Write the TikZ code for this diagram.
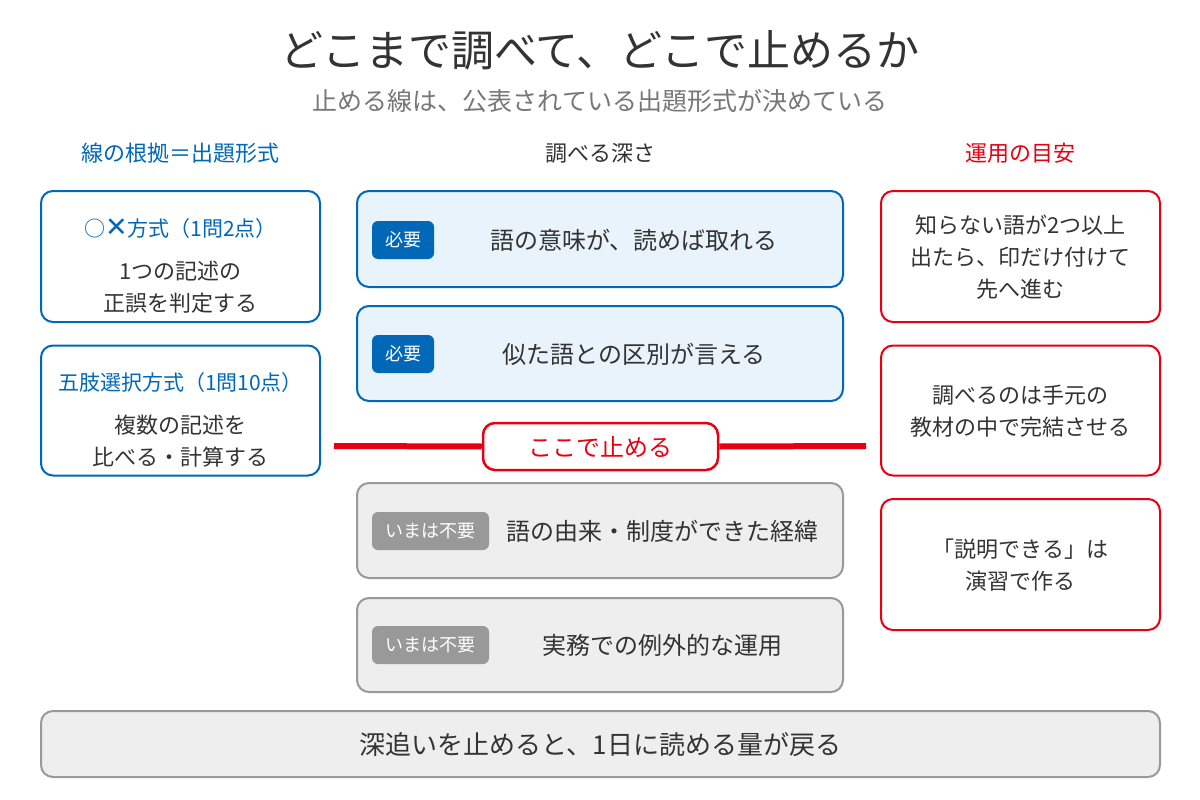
\documentclass[tikz,border=0pt]{standalone}
\usepackage{fontspec}
\setmainfont{Noto Sans CJK JP}
\newfontfamily\djv{DejaVu Sans}
\newcommand\myfs[2]{\fontsize{#1}{#2}\selectfont}
\definecolor{cblue}{HTML}{0068B7}
\definecolor{cred}{HTML}{E60012}
\definecolor{cdark}{HTML}{333333}
\definecolor{csub}{HTML}{777777}
\definecolor{lblue}{HTML}{E8F3FC}
\definecolor{lgray}{HTML}{EEEEEE}
\definecolor{mgray}{HTML}{999999}
\tikzset{
  box/.style={draw, rounded corners=12pt, line width=2pt, inner sep=0pt},
  bluebox/.style={box, draw=cblue, fill=white},
  redbox/.style={box, draw=cred, fill=white},
  needbox/.style={box, draw=cblue, fill=lblue},
  skipbox/.style={box, draw=mgray, fill=lgray},
  badge/.style={rounded corners=6pt, inner sep=0pt, minimum height=38pt, text=white, font=\myfs{18}{20}},
  body/.style={text=cdark, align=center, font=\myfs{22}{32}, inner sep=0pt},
  midtext/.style={text=cdark, font=\myfs{24}{30}, inner sep=0pt},
  head/.style={font=\myfs{22}{26}, inner sep=0pt},
  redline/.style={draw=cred, line width=6pt}
}
\begin{document}
\begin{tikzpicture}[x=1pt,y=-1pt]
\useasboundingbox (0,0) rectangle (1200,800);
\fill[white] (0,0) rectangle (1200,800);

% titles
\node[text=cdark, font=\myfs{43}{50}, inner sep=0pt] (title) at (600,50) {どこまで調べて、どこで止めるか};
\node[text=csub, font=\myfs{25}{30}, inner sep=0pt] (subtitle) at (600,101) {止める線は、公表されている出題形式が決めている};

% column headers
\node[head, text=cblue] (hl) at (180.5,153) {線の根拠＝出題形式};
\node[head, text=cdark] (hm) at (600,153) {調べる深さ};
\node[head, text=cred] (hr) at (1020.5,153) {運用の目安};

% left column
\node[bluebox, minimum width=279pt, minimum height=131pt] (L1) at (180.5,256.5) {};
\node[text=cblue, font=\myfs{21}{26}, inner sep=0pt] (L1t) at (180.5,229) {○{\djv\myfs{27}{26}✕}方式（1問2点）};
\node[body] (L1b) at (180.5,287) {1つの記述の\\正誤を判定する};

\node[bluebox, minimum width=279pt, minimum height=130pt] (L2) at (180.5,410.5) {};
\node[text=cblue, font=\myfs{21}{26}, inner sep=0pt] (L2t) at (180.5,383) {五肢選択方式（1問10点）};
\node[body] (L2b) at (180.5,441) {複数の記述を\\比べる・計算する};

% middle column
\node[needbox, minimum width=486pt, minimum height=96pt] (M1) at (600,239) {};
\node[badge, fill=cblue, minimum width=62pt] (B1) at (403,240) {必要};
\node[midtext] (M1t) at (634,240) {語の意味が、読めば取れる};

\node[needbox, minimum width=486pt, minimum height=95pt] (M2) at (600,353.5) {};
\node[badge, fill=cblue, minimum width=62pt] (B2) at (403,354) {必要};
\node[midtext] (M2t) at (634,354) {似た語との区別が言える};

\coordinate (rl) at (334,446);
\coordinate (rr) at (866,446);
\node[redbox, line width=2.5pt, minimum width=235pt, minimum height=47pt, text=cred, font=\myfs{24}{30}] (stop) at (600.5,446.5) {ここで止める};
\draw[redline] (rl) -- (stop.west);
\draw[redline] (stop.east) -- (rr);

\node[skipbox, minimum width=486pt, minimum height=95pt] (M3) at (600,530.5) {};
\node[badge, fill=mgray, minimum width=117pt] (B3) at (430.5,531) {いまは不要};
\node[midtext] (M3t) at (662,531) {語の由来・制度ができた経緯};

\node[skipbox, minimum width=486pt, minimum height=94pt] (M4) at (600,645) {};
\node[badge, fill=mgray, minimum width=117pt] (B4) at (430.5,645) {いまは不要};
\node[midtext] (M4t) at (662,645) {実務での例外的な運用};

% right column
\node[redbox, minimum width=279pt, minimum height=131pt] (R1) at (1020.5,256.5) {};
\node[body] (R1t) at (1020.5,257) {知らない語が2つ以上\\出たら、印だけ付けて\\先へ進む};

\node[redbox, minimum width=279pt, minimum height=130pt] (R2) at (1020.5,410.5) {};
\node[body] (R2t) at (1020.5,411.5) {調べるのは手元の\\教材の中で完結させる};

\node[redbox, minimum width=279pt, minimum height=131pt] (R3) at (1020.5,564.5) {};
\node[body] (R3t) at (1020.5,565.5) {「説明できる」は\\演習で作る};

% bottom
\node[skipbox, minimum width=1119pt, minimum height=66pt] (bot) at (600.5,744) {};
\node[text=cdark, font=\myfs{26}{30}, inner sep=0pt] (bott) at (600.5,745) {深追いを止めると、1日に読める量が戻る};
\end{tikzpicture}
\end{document}
